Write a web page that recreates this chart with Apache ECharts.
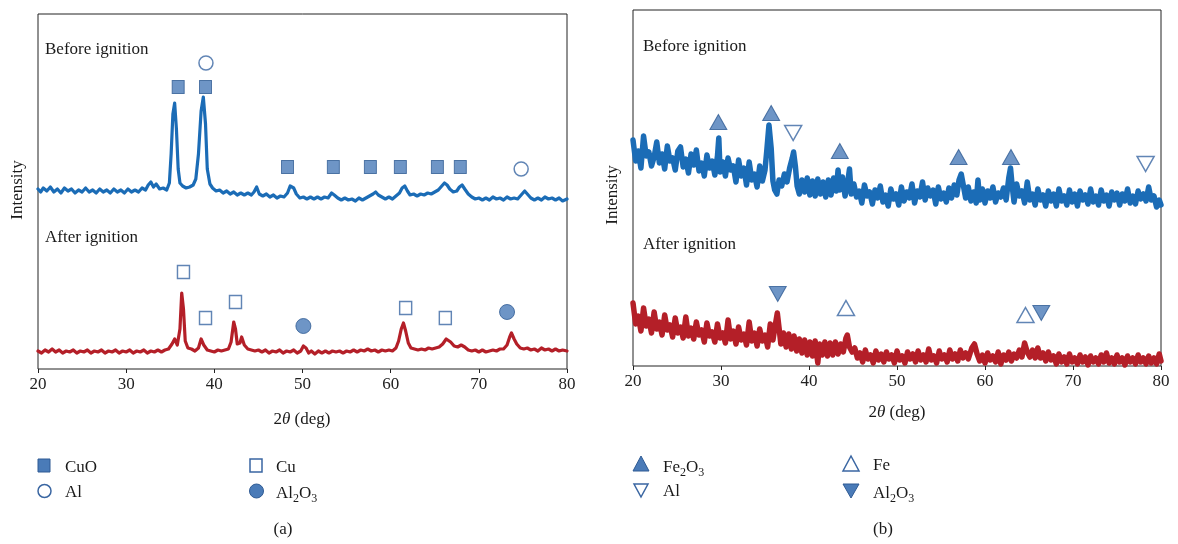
<!DOCTYPE html>
<html>
<head>
<meta charset="utf-8">
<script src="https://cdn.jsdelivr.net/npm/echarts@6/dist/echarts.min.js"></script>
<style>html,body{margin:0;padding:0;background:#fff;}#c{width:1178px;height:544px;}</style>
</head>
<body>
<div id="c"></div>
<script>
// ---------- DATA (2θ in degrees, intensity in arbitrary units) ----------
const xTicks = [20, 30, 40, 50, 60, 70, 80];

// Panel (a) CuO/Al, before ignition
const aBefore = [[20,180],[20.3,177],[20.6,181],[21,178],[21.4,182],[21.8,177],[22.2,180],[22.6,176],[23,181],[23.4,178],[23.8,180],[24.2,176],[24.6,179],[25,177],[25.4,181],[25.8,177],[26.2,179],[26.6,176],[27,180],[27.4,177],[27.8,179],[28.2,176],[28.6,180],[29,177],[29.4,179],[29.8,176],[30.2,180],[30.6,177],[31,179],[31.4,177],[31.8,181],[32.2,179],[32.5,184],[32.8,187],[33.1,182],[33.4,185],[33.8,180],[34.2,181],[34.6,179],[34.9,186],[35.1,215],[35.3,255],[35.5,266],[35.7,240],[35.9,200],[36.1,186],[36.4,183],[36.8,181],[37.2,182],[37.6,184],[37.9,190],[38.2,215],[38.5,258],[38.75,272],[39.0,245],[39.2,200],[39.5,185],[39.8,181],[40.2,178],[40.6,179],[41,176],[41.4,178],[41.8,175],[42.2,177],[42.6,174],[43,176],[43.4,174],[43.8,176],[44.2,174],[44.5,177],[44.8,182],[45.1,175],[45.5,173],[45.9,175],[46.3,172],[46.7,174],[47.1,171],[47.5,173],[47.9,172],[48.3,176],[48.6,183],[48.8,185],[49.0,181],[49.3,175],[49.7,171],[50.1,172],[50.5,170],[50.9,172],[51.3,170],[51.7,172],[52.1,170],[52.5,172],[52.9,171],[53.3,176],[53.6,174],[54,171],[54.4,169],[54.8,171],[55.2,169],[55.6,170],[56,168],[56.4,171],[56.8,169],[57.2,171],[57.6,173],[58,175],[58.3,177],[58.6,174],[59,172],[59.4,170],[59.8,172],[60.2,170],[60.6,173],[61,176],[61.3,181],[61.6,183],[61.9,178],[62.2,174],[62.6,175],[63,173],[63.4,175],[63.8,174],[64.2,176],[64.6,175],[65,177],[65.4,179],[65.8,183],[66.1,186],[66.4,184],[66.7,180],[67.1,177],[67.5,178],[67.8,182],[68.1,184],[68.4,180],[68.8,175],[69.2,172],[69.6,170],[70,171],[70.4,169],[70.8,171],[71.2,169],[71.6,172],[72,170],[72.4,171],[72.8,169],[73.2,172],[73.6,170],[74,171],[74.4,170],[74.8,174],[75.2,178],[75.5,175],[75.9,171],[76.3,169],[76.7,171],[77.1,169],[77.5,172],[77.9,170],[78.3,171],[78.7,169],[79.1,171],[79.5,168],[80,170]];

// Panel (a) after ignition
const aAfter = [[20,18],[20.4,16],[20.8,19],[21.2,17],[21.6,20],[22,17],[22.4,19],[22.8,16],[23.2,18],[23.6,17],[24,19],[24.4,16],[24.8,18],[25.2,17],[25.6,19],[26,16],[26.4,18],[26.8,17],[27.2,19],[27.6,16],[28,18],[28.4,17],[28.8,19],[29.2,16],[29.6,18],[30,17],[30.4,19],[30.8,16],[31.2,18],[31.6,17],[32,19],[32.4,16],[32.8,18],[33.2,17],[33.6,19],[34,17],[34.4,19],[34.8,20],[35.2,25],[35.5,30],[35.8,24],[36.1,40],[36.3,76],[36.5,60],[36.7,28],[37,21],[37.4,20],[37.8,18],[38.2,21],[38.5,30],[38.8,24],[39.2,19],[39.6,18],[40,17],[40.4,19],[40.8,18],[41.2,19],[41.6,20],[41.9,27],[42.2,47],[42.4,40],[42.6,25],[42.9,26],[43.1,32],[43.4,24],[43.8,20],[44.2,19],[44.6,18],[45,19],[45.4,17],[45.8,19],[46.2,16],[46.6,18],[47,17],[47.4,19],[47.8,16],[48.2,18],[48.6,17],[49,19],[49.4,16],[49.8,18],[50.1,23],[50.4,21],[50.7,16],[51,18],[51.4,15],[51.8,18],[52.2,16],[52.6,18],[53,16],[53.4,18],[53.8,17],[54.2,18],[54.6,16],[55,18],[55.4,17],[55.8,19],[56.2,17],[56.6,19],[57,18],[57.4,20],[57.8,18],[58.2,19],[58.6,17],[59,19],[59.4,18],[59.8,19],[60.2,18],[60.6,21],[60.9,28],[61.2,40],[61.45,46],[61.7,38],[62,26],[62.3,21],[62.7,20],[63.1,19],[63.5,20],[63.9,19],[64.3,21],[64.7,20],[65.1,21],[65.5,22],[65.9,25],[66.3,30],[66.5,32],[66.8,27],[67.2,23],[67.6,22],[68,24],[68.4,22],[68.8,19],[69.2,18],[69.6,19],[70,17],[70.4,19],[70.8,17],[71.2,18],[71.6,19],[72,18],[72.4,20],[72.8,20],[73.2,24],[73.5,32],[73.7,36],[74,30],[74.3,25],[74.7,21],[75.1,20],[75.5,21],[75.9,19],[76.3,20],[76.7,18],[77.1,21],[77.5,19],[77.9,20],[78.3,18],[78.7,20],[79.1,18],[79.5,19],[80,18]];

// Panel (b) Fe2O3/Al, before ignition
const bBefore = [[20.0,226],[20.3,205],[20.6,215],[20.9,198],[21.2,230],[21.5,210],[21.8,214],[22.1,200],[22.4,209],[22.7,224],[23.0,203],[23.3,212],[23.6,197],[23.9,220],[24.2,205],[24.5,208],[24.8,196],[25.1,215],[25.4,219],[25.7,199],[26.0,207],[26.3,193],[26.6,212],[26.9,201],[27.2,216],[27.5,195],[27.8,203],[28.1,190],[28.4,211],[28.7,198],[29.0,205],[29.3,191],[29.6,210],[29.75,228],[29.9,194],[30.2,204],[30.5,190],[30.8,208],[31.1,196],[31.4,200],[31.7,184],[32.0,206],[32.3,190],[32.6,198],[32.9,181],[33.2,204],[33.5,186],[33.8,192],[34.1,179],[34.4,200],[34.7,185],[35.0,196],[35.2,215],[35.45,241],[35.7,218],[35.9,185],[36.1,176],[36.35,172],[36.6,186],[36.9,180],[37.2,192],[37.5,184],[37.8,198],[38.1,208],[38.25,214],[38.45,200],[38.65,180],[38.9,172],[39.2,186],[39.5,174],[39.8,188],[40.1,171],[40.4,185],[40.7,170],[41.0,187],[41.3,172],[41.6,184],[41.9,169],[42.2,186],[42.5,171],[42.8,188],[43.1,175],[43.3,196],[43.5,176],[43.8,189],[44.1,170],[44.4,184],[44.6,197],[44.8,172],[45.1,182],[45.4,169],[45.7,175],[46.0,163],[46.3,181],[46.6,170],[46.9,174],[47.2,162],[47.5,176],[47.8,168],[48.1,180],[48.4,164],[48.7,171],[49.0,160],[49.3,177],[49.6,167],[49.9,172],[50.2,161],[50.5,179],[50.8,165],[51.1,174],[51.4,168],[51.7,182],[52.0,163],[52.3,175],[52.6,169],[52.9,184],[53.2,166],[53.5,178],[53.8,170],[54.1,176],[54.4,162],[54.7,179],[55.0,167],[55.3,173],[55.6,164],[55.9,178],[56.2,168],[56.5,181],[56.8,171],[57.05,186],[57.3,192],[57.55,180],[57.8,168],[58.1,179],[58.4,165],[58.7,174],[59.0,163],[59.2,186],[59.4,166],[59.7,177],[60.0,163],[60.3,175],[60.6,168],[60.9,179],[61.2,164],[61.5,173],[61.8,169],[62.1,178],[62.4,166],[62.7,188],[62.9,198],[63.1,179],[63.3,164],[63.6,182],[63.9,170],[64.2,175],[64.5,163],[64.8,184],[65.1,166],[65.4,172],[65.7,161],[66.0,177],[66.3,166],[66.6,171],[66.9,160],[67.2,175],[67.5,165],[67.8,172],[68.1,160],[68.4,177],[68.7,165],[69.0,170],[69.3,161],[69.6,176],[69.9,164],[70.2,172],[70.5,160],[70.8,175],[71.1,166],[71.4,171],[71.7,162],[72.0,177],[72.3,164],[72.6,170],[72.9,161],[73.2,176],[73.5,165],[73.8,171],[74.1,160],[74.4,174],[74.7,166],[75.0,173],[75.3,161],[75.6,172],[75.9,165],[76.2,177],[76.5,163],[76.8,170],[77.1,162],[77.4,175],[77.7,167],[78.0,172],[78.3,165],[78.6,179],[78.9,166],[79.2,170],[79.5,159],[79.8,166],[80.0,161]];

// Panel (b) after ignition
const bAfter = [[20.0,63],[20.3,42],[20.6,50],[20.9,35],[21.2,58],[21.5,40],[21.8,47],[22.1,33],[22.4,54],[22.7,37],[23.0,44],[23.3,31],[23.6,51],[23.9,36],[24.2,41],[24.5,29],[24.8,48],[25.1,33],[25.4,39],[25.7,28],[26.0,49],[26.3,30],[26.6,38],[26.9,27],[27.2,44],[27.5,31],[27.8,36],[28.1,24],[28.4,43],[28.7,30],[29.0,34],[29.3,24],[29.6,42],[29.9,28],[30.2,33],[30.5,23],[30.8,46],[31.1,27],[31.4,35],[31.7,22],[32.0,39],[32.3,26],[32.6,32],[32.9,21],[33.2,44],[33.5,25],[33.8,33],[34.1,20],[34.4,37],[34.7,25],[35.0,31],[35.3,19],[35.6,42],[35.9,26],[36.15,40],[36.4,53],[36.6,38],[36.8,22],[37.1,33],[37.4,19],[37.7,32],[38.0,17],[38.3,30],[38.6,15],[38.9,27],[39.2,13],[39.5,26],[39.8,11],[40.1,24],[40.4,10],[40.7,25],[41.0,3],[41.2,22],[41.5,11],[41.8,24],[42.1,10],[42.4,23],[42.7,11],[43.0,24],[43.3,12],[43.6,22],[43.9,14],[44.2,28],[44.35,31],[44.6,19],[44.9,14],[45.2,18],[45.5,8],[45.8,13],[46.1,4],[46.4,16],[46.7,7],[47.0,11],[47.3,3],[47.6,15],[47.9,6],[48.2,12],[48.5,4],[48.8,14],[49.1,7],[49.4,11],[49.7,3],[50.0,15],[50.3,6],[50.6,10],[50.9,3],[51.2,14],[51.5,7],[51.8,12],[52.1,4],[52.4,15],[52.7,6],[53.0,11],[53.3,4],[53.6,17],[53.9,6],[54.2,10],[54.5,3],[54.8,15],[55.1,7],[55.4,11],[55.7,4],[56.0,16],[56.3,7],[56.6,12],[56.9,5],[57.2,16],[57.5,8],[57.8,13],[58.1,7],[58.5,18],[58.8,22],[59.1,12],[59.4,5],[59.7,11],[60.0,3],[60.3,13],[60.6,6],[60.9,10],[61.2,4],[61.5,14],[61.8,2],[62.1,11],[62.4,6],[62.7,14],[63.0,5],[63.3,12],[63.6,8],[63.9,16],[64.2,9],[64.5,23],[64.8,14],[65.1,9],[65.4,16],[65.7,8],[66.0,18],[66.3,8],[66.6,13],[66.9,5],[67.2,14],[67.5,6],[67.8,10],[68.1,2],[68.4,12],[68.7,4],[69.0,9],[69.3,2],[69.6,12],[69.9,4],[70.2,8],[70.5,2],[70.8,11],[71.1,4],[71.4,9],[71.7,1],[72.0,10],[72.3,4],[72.6,8],[72.9,2],[73.2,11],[73.5,4],[73.8,13],[74.1,3],[74.4,8],[74.7,2],[75.0,11],[75.3,4],[75.6,8],[75.9,1],[76.2,10],[76.5,4],[76.8,8],[77.1,2],[77.4,11],[77.7,4],[78.0,8],[78.3,2],[78.6,10],[78.9,3],[79.2,8],[79.5,2],[79.8,12],[80.0,5]];

// Phase markers [2θ, intensity position]
const aCuO   = [[35.9,282],[39.0,282],[48.3,202],[53.5,202],[57.7,202],[61.1,202],[65.3,202],[67.9,202]];
const aAl    = [[39.05,306],[74.8,200]];
const aCu    = [[36.5,97],[39.0,51],[42.4,67],[61.7,61],[66.2,51]];
const aAl2O3 = [[50.1,43],[73.2,57]];
const bFe2O3 = [[29.7,244],[35.7,253],[43.5,215],[57.0,209],[62.95,209]];
const bAl    = [[38.2,233],[78.25,202]];
const bFe    = [[44.2,58],[64.6,51]];
const bAl2O3 = [[36.45,72],[66.4,53]];

// ---------- STYLE ----------
const FONT = '"Liberation Serif", "DejaVu Serif", serif';
const BLUE_LINE = '#1b6cb6';
const RED_LINE = '#b41f28';
const MK_FILL = '#4a7bb8';
const MK_EDGE = '#2f5b94';
const OPEN_EDGE = '#3a66a2';

const chart = echarts.init(document.getElementById('c'), null, {renderer: 'canvas'});

function xAxisCfg(gi) {
  return {
    type: 'value', gridIndex: gi, min: xTicks[0], max: xTicks[xTicks.length - 1], interval: 10,
    axisLine: {show: false},
    axisTick: {show: true, length: 4, inside: false, lineStyle: {color: '#222'}},
    axisLabel: {margin: 7, fontFamily: FONT, fontSize: 17, color: '#222'},
    splitLine: {show: false}
  };
}
function yAxisCfg(gi, max) {
  return {
    type: 'value', gridIndex: gi, min: 0, max: max,
    axisLine: {show: false}, axisTick: {show: false}, axisLabel: {show: false}, splitLine: {show: false}
  };
}
function lineS(gi, data, color, w) {
  return {type: 'line', xAxisIndex: gi, yAxisIndex: gi, data: data, showSymbol: false, symbol: 'none',
    lineStyle: {color: color, width: w, join: 'round', cap: 'round'}, z: 2, animation: false, clip: true};
}
function mk(gi, data, symbol, size, filled, rotate) {
  return {type: 'scatter', xAxisIndex: gi, yAxisIndex: gi, data: data, symbol: symbol, symbolSize: size,
    symbolRotate: rotate || 0,
    itemStyle: filled ? {color: MK_FILL, borderColor: MK_EDGE, borderWidth: 1}
                      : {color: '#ffffff', borderColor: OPEN_EDGE, borderWidth: 1.5},
    z: 5, animation: false, silent: true};
}

function txt(x, y, text, opts) {
  return {type: 'text', x: x, y: y, silent: true,
    style: Object.assign({text: text, fontFamily: FONT, fontSize: 17, fill: '#1a1a1a',
      textAlign: 'left', textVerticalAlign: 'middle'}, (opts && opts.style) || {})};
}
const rich = {
  n: {fontFamily: FONT, fontSize: 17, color: '#1a1a1a', lineHeight: 20, verticalAlign: 'bottom'},
  s: {fontFamily: FONT, fontSize: 12, color: '#1a1a1a', lineHeight: 14, verticalAlign: 'bottom', padding: [0, 0, -3, 0]},
  i: {fontFamily: FONT, fontSize: 17, color: '#1a1a1a', fontStyle: 'italic', lineHeight: 20, verticalAlign: 'bottom'}
};
function richTxt(x, y, text, align) {
  return {type: 'text', x: x, y: y, silent: true,
    style: {text: text, rich: rich, textAlign: align || 'left', textVerticalAlign: 'middle', fontFamily: FONT, fontSize: 17, fill: '#1a1a1a'}};
}

const filledStyle = {fill: MK_FILL, stroke: MK_EDGE, lineWidth: 1};
const openStyle = {fill: '#fff', stroke: OPEN_EDGE, lineWidth: 1.5};

const graphics = [
  txt(45, 50, 'Before ignition'),
  txt(45, 238, 'After ignition'),
  txt(643, 47, 'Before ignition'),
  txt(643, 245, 'After ignition'),
  {type: 'text', x: 18, y: 190, rotation: Math.PI / 2, silent: true,
    style: {text: 'Intensity', fontFamily: FONT, fontSize: 17, fill: '#1a1a1a', textAlign: 'center', textVerticalAlign: 'middle'}},
  {type: 'text', x: 613, y: 195, rotation: Math.PI / 2, silent: true,
    style: {text: 'Intensity', fontFamily: FONT, fontSize: 17, fill: '#1a1a1a', textAlign: 'center', textVerticalAlign: 'middle'}},
  richTxt(302, 418, '{n|2}{i|θ}{n| (deg)}', 'center'),
  richTxt(897, 411, '{n|2}{i|θ}{n| (deg)}', 'center'),
  // legend (a)
  {type: 'rect', shape: {x: 38, y: 459, width: 12, height: 13}, style: filledStyle, silent: true},
  richTxt(65, 466, '{n|CuO}'),
  {type: 'rect', shape: {x: 250, y: 459, width: 12, height: 13}, style: openStyle, silent: true},
  richTxt(276, 466, '{n|Cu}'),
  {type: 'circle', shape: {cx: 44.5, cy: 491, r: 6.5}, style: openStyle, silent: true},
  richTxt(65, 491, '{n|Al}'),
  {type: 'circle', shape: {cx: 256.5, cy: 491, r: 7}, style: filledStyle, silent: true},
  richTxt(276, 492, '{n|Al}{s|2}{n|O}{s|3}'),
  txt(283, 530, '(a)', {style: {textAlign: 'center'}}),
  // legend (b)
  {type: 'polygon', shape: {points: [[641, 456], [633, 471], [649, 471]]}, style: filledStyle, silent: true},
  richTxt(663, 466, '{n|Fe}{s|2}{n|O}{s|3}'),
  {type: 'polygon', shape: {points: [[851, 456], [843, 471], [859, 471]]}, style: openStyle, silent: true},
  richTxt(873, 464, '{n|Fe}'),
  {type: 'polygon', shape: {points: [[634, 484], [648, 484], [641, 497]]}, style: openStyle, silent: true},
  richTxt(663, 490, '{n|Al}'),
  {type: 'polygon', shape: {points: [[843, 484], [859, 484], [851, 498]]}, style: filledStyle, silent: true},
  richTxt(873, 492, '{n|Al}{s|2}{n|O}{s|3}'),
  txt(883, 530, '(b)', {style: {textAlign: 'center'}})
];

chart.setOption({
  animation: false,
  backgroundColor: '#ffffff',
  grid: [
    {left: 38, top: 14, width: 529, height: 355, show: true, borderColor: '#222', borderWidth: 1, backgroundColor: 'transparent'},
    {left: 633, top: 10, width: 528, height: 356, show: true, borderColor: '#222', borderWidth: 1, backgroundColor: 'transparent'}
  ],
  xAxis: [xAxisCfg(0), xAxisCfg(1)],
  yAxis: [yAxisCfg(0, 355), yAxisCfg(1, 356)],
  series: [
    lineS(0, aBefore, BLUE_LINE, 3.2),
    lineS(0, aAfter, RED_LINE, 3.2),
    lineS(1, bBefore, BLUE_LINE, 5.5),
    lineS(1, bAfter, RED_LINE, 5.5),
    mk(0, aCuO, 'rect', [12, 13], true),
    mk(0, aAl, 'circle', 14, false),
    mk(0, aCu, 'rect', [12, 13], false),
    mk(0, aAl2O3, 'circle', 15, true),
    mk(1, bFe2O3, 'triangle', [17, 15], true),
    mk(1, bAl, 'triangle', [17, 15], false, 180),
    mk(1, bFe, 'triangle', [17, 15], false),
    mk(1, bAl2O3, 'triangle', [17, 15], true, 180)
  ],
  graphic: graphics
});
</script>
</body>
</html>
